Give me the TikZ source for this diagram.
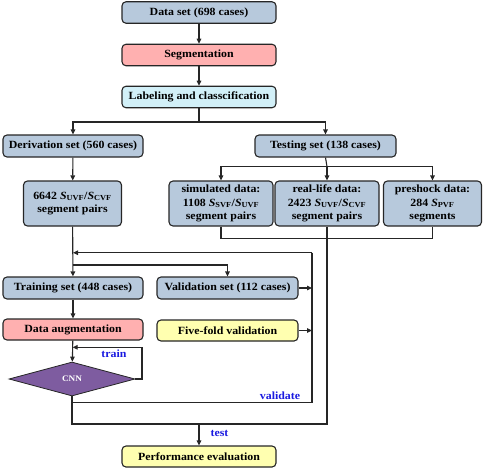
\documentclass[tikz,border=0pt]{standalone}
\usepackage{fontspec}
\setmainfont{Liberation Serif}[FakeStretch=1.08]
\usetikzlibrary{arrows.meta,shapes.geometric}
\definecolor{bgray}{HTML}{B7C9DC}
\definecolor{bpink}{HTML}{FFB0B0}
\definecolor{bcyan}{HTML}{D2F0F8}
\definecolor{byel}{HTML}{FFFFB0}
\definecolor{bpurp}{HTML}{7E5CA0}
\definecolor{lblue}{HTML}{1A1AE0}
\newcommand{\Ssub}[1]{\textit{S}\textsubscript{#1}}
\tikzset{
  box/.style={draw=black!85, line width=1.1pt, rounded corners=4pt, inner sep=0pt,
    font=\fontsize{11}{13.5}\selectfont\bfseries, align=center, anchor=center},
  wide/.style={box, minimum width=154pt, minimum height=21.5pt},
  mid/.style={box, minimum width=140pt, minimum height=22pt},
  tall/.style={box, minimum height=45pt, fill=bgray},
  ln/.style={line width=1.1pt, draw=black!85},
  arr/.style={ln, -{Triangle[length=5pt,width=4.5pt]}},
  lab/.style={text=lblue, font=\fontsize{11}{12}\selectfont\bfseries}
}
\begin{document}
\begin{tikzpicture}[x=1pt,y=-1pt]
\useasboundingbox (0,0) rectangle (484,469);
\node[wide, fill=bgray] (data) at (199,12.5) {Data set (698 cases)};
\node[wide, fill=bpink] (seg) at (199,55) {Segmentation};
\node[wide, fill=bcyan] (lab) at (199,97) {Labeling and classcification};
\node[mid, fill=bgray] (deriv) at (73,146) {Derivation set (560 cases)};
\node[mid, fill=bgray, minimum width=141pt] (test) at (325.5,146) {Testing set (138 cases)};
\node[tall, minimum width=98pt] (pairs) at (72.5,203.5) {6642 \Ssub{UVF}/\Ssub{CVF}\\segment pairs};
\node[tall, minimum width=104pt] (sim) at (221,203.5) {simulated data:\\1108 \Ssub{SVF}/\Ssub{UVF}\\segment pairs};
\node[tall, minimum width=104pt] (real) at (327,203.5) {real-life data:\\2423 \Ssub{UVF}/\Ssub{CVF}\\segment pairs};
\node[tall, minimum width=98pt] (pre) at (432.5,203.5) {preshock data:\\284 \Ssub{PVF}\\segments};
\node[mid, fill=bgray] (train) at (73,288) {Training set (448 cases)};
\node[mid, fill=bgray, minimum width=141pt] (valid) at (227.5,288) {Validation set (112 cases)};
\node[mid, fill=bpink, minimum height=21pt] (aug) at (73,329.5) {Data augmentation};
\node[mid, fill=byel, minimum width=141pt, minimum height=21pt] (five) at (227.5,330.5) {Five-fold validation};
\node[diamond, draw=black!85, line width=0.8pt, fill=bpurp, minimum width=126pt, minimum height=34pt, inner sep=0pt, aspect=3.7, text=white, font=\fontsize{8.5}{10}\selectfont\bfseries] (cnn) at (72,379) {CNN};
\node[wide, fill=byel, minimum height=21pt] (perf) at (199,456.5) {Performance evaluation};
% coordinates
\coordinate (s1) at (199,122);
\coordinate (t1) at (327,166.7);
\coordinate (v1) at (312,252.7);
\coordinate (v2) at (312,402.7);
\coordinate (b1) at (327,424);
\coordinate (b2) at (199,424);
\coordinate (c1) at (72,424);
% connectors
\draw[arr] (data) -- (seg);
\draw[arr] (seg) -- (lab);
\draw[ln] (lab.south) -- (s1);
\draw[arr] (s1) -| (deriv.north);
\draw[arr] (s1) -| (test.north);
\draw[arr] (deriv) -- (pairs);
\draw[ln] (test.south) -- (t1);
\draw[arr] (t1) -| (sim.north);
\draw[arr] (t1) -| (pre.north);
\draw[arr] (t1) -- (real.north);
\draw[arr] (pairs) -- (train);
\draw[arr] (pairs.south |- 0,265) -| (valid.north);
\draw[ln] (sim.south) |- (pre.south |- 0,238.3) -- (pre.south);
\draw[ln] (real.south) -- (b1) -- (c1) -- (cnn.south);
\draw[ln] (v1) -- (v2) -- (cnn.south |- v2);
\draw[arr] (v1) -- (73,252.7);
\draw[arr] (valid.east) -- (valid.east -| v1);
\draw[arr] (five.east) -- (five.east -| v1);
\draw[arr] (train) -- (aug);
\draw[arr] (aug) -- (cnn);
\draw[arr] (cnn.east) -- (142,379) -- (142,347.3) -- (72.6,347.3);
\draw[arr] (b2) -- (perf);
\node[lab] (ltrain) at (114,354) {train};
\node[lab] (lval) at (280,396) {validate};
\node[lab] (ltest) at (219.5,433) {test};
\end{tikzpicture}
\end{document}
